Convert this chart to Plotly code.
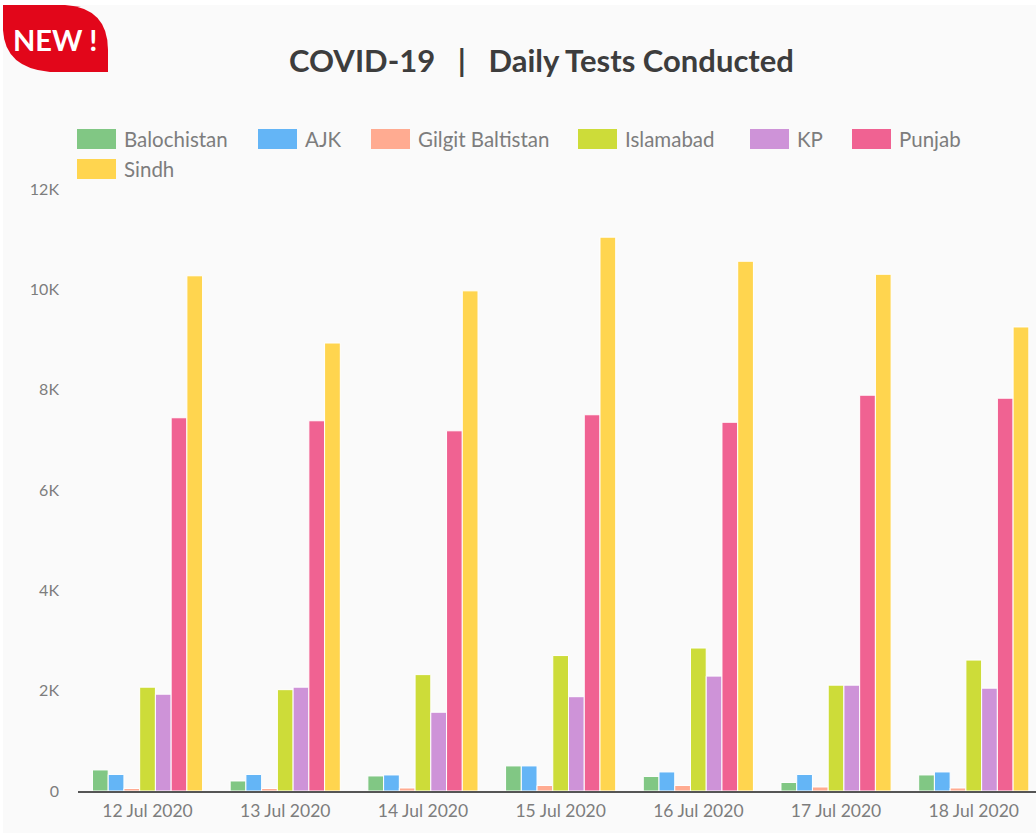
import plotly.graph_objects as go

dates = ["12 Jul 2020", "13 Jul 2020", "14 Jul 2020", "15 Jul 2020", "16 Jul 2020", "17 Jul 2020", "18 Jul 2020"]
balochistan = [420, 200, 300, 500, 290, 170, 320]
ajk = [330, 330, 320, 500, 380, 330, 380]
gilgit = [50, 50, 60, 110, 110, 80, 60]
islamabad = [2070, 2020, 2320, 2700, 2850, 2110, 2610]
kp = [1930, 2070, 1570, 1880, 2290, 2110, 2050]
punjab = [7440, 7380, 7180, 7500, 7350, 7890, 7830]
sindh = [10270, 8930, 9970, 11040, 10560, 10300, 9250]

names = ["Balochistan", "AJK", "Gilgit Baltistan", "Islamabad", "KP", "Punjab", "Sindh"]
series = [balochistan, ajk, gilgit, islamabad, kp, punjab, sindh]
colors = ["#81c784", "#64b5f6", "#ffab91", "#cddc39", "#ce93d8", "#f06292", "#ffd54f"]
tick_vals = [0, 2000, 4000, 6000, 8000, 10000, 12000]
tick_text = ["0", "2K", "4K", "6K", "8K", "10K", "12K"]

W, H = 1036, 833
L, R, T, B = 78, 0, 189, 42
FONT = "Lato, 'Open Sans', sans-serif"
px = lambda x: (x - L) / (W - L - R)
py = lambda y: (H - B - y) / (H - T - B)

fig = go.Figure()
for n, s, c in zip(names, series, colors):
    fig.add_trace(go.Bar(name=n, x=dates, y=s, marker=dict(color=c, line=dict(color="#ffffff", width=1))))

shapes = [
    dict(type="rect", xref="paper", yref="paper", x0=px(3), x1=px(W), y0=py(H), y1=py(5),
         fillcolor="#fafafa", line_width=0, layer="below"),
    dict(type="path", xref="paper", yref="paper", layer="above", fillcolor="#e2061a", line_width=0,
         path=(f"M{px(3)},{py(5)} L{px(65)},{py(5)} Q{px(108)},{py(8)} {px(108)},{py(50)} "
               f"L{px(108)},{py(72)} L{px(50)},{py(72)} Q{px(5)},{py(68)} {px(3)},{py(30)} Z")),
]
annotations = [
    dict(text="<b>COVID-19   |   Daily Tests Conducted</b>", x=px(541), y=py(60), xref="paper", yref="paper",
         showarrow=False, font=dict(family=FONT, size=31, color="#3d3d3d"), xanchor="center", yanchor="middle"),
    dict(text="<b>NEW !</b>", x=px(55), y=py(39), xref="paper", yref="paper", showarrow=False,
         font=dict(family=FONT, size=29, color="#ffffff"), xanchor="center", yanchor="middle"),
]
swatch_x = [77, 258, 371, 578, 750, 852, 77]
swatch_y = [139, 139, 139, 139, 139, 139, 169]
for n, c, sx, sy in zip(names, colors, swatch_x, swatch_y):
    shapes.append(dict(type="rect", xref="paper", yref="paper", x0=px(sx), x1=px(sx + 39),
                       y0=py(sy + 10), y1=py(sy - 10), fillcolor=c, line_width=0))
    annotations.append(dict(text=n, x=px(sx + 45), y=py(sy), xref="paper", yref="paper", showarrow=False,
                            xanchor="left", yanchor="middle",
                            font=dict(family=FONT, size=20.5, color="#7d7d7d")))

fig.update_layout(
    width=W, height=H, autosize=False,
    margin=dict(l=L, r=R, t=T, b=B, pad=0),
    paper_bgcolor="#ffffff", plot_bgcolor="rgba(0,0,0,0)",
    barmode="group", bargap=0.2, bargroupgap=0,
    showlegend=False, shapes=shapes, annotations=annotations,
    font=dict(family=FONT, color="#7d7d7d"),
    xaxis=dict(type="category", range=[-0.505, 6.452], showgrid=False, ticks="", showline=True,
               linecolor="#555555", linewidth=2, tickfont=dict(size=17.5, color="#7d7d7d"), zeroline=False,
               ticklabelstandoff=3),
    yaxis=dict(range=[0, 12000], tickvals=tick_vals, ticktext=tick_text, showgrid=False, zeroline=False,
               showline=False, ticks="", ticklabelstandoff=18, tickfont=dict(size=16, color="#7d7d7d")),
)
fig.write_html("out.html", config=dict(displayModeBar=False),
               post_script="document.body.style.margin='0';document.body.style.background='#ffffff';")
